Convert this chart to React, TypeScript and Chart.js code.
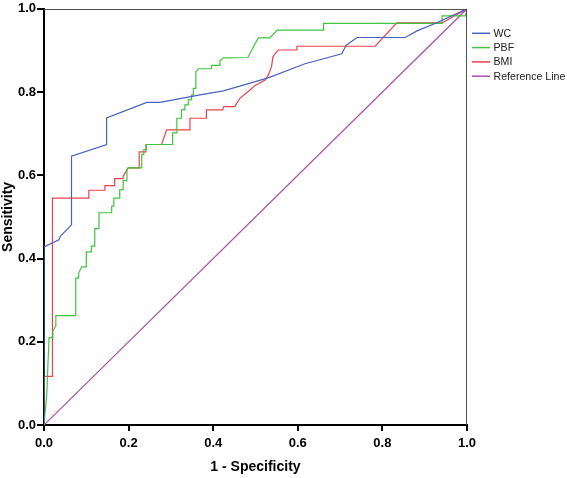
import React, { useEffect, useRef } from 'react';
import { Chart, registerables } from 'chart.js';

Chart.register(...registerables);

const seriesNames = ['WC', 'PBF', 'BMI', 'Reference Line'];
const seriesColors = ['#4763bd', '#3fc43f', '#ea424a', '#a852a8'];

const tickValues = [0, 0.2, 0.4, 0.6, 0.8, 1.0];
const tickLabels = ['0.0', '0.2', '0.4', '0.6', '0.8', '1.0'];

const wcPoints: number[][] = [
  [0, 0], [0, 0.428], [0.035, 0.445], [0.039, 0.454], [0.065, 0.481], [0.065, 0.646],
  [0.148, 0.674], [0.148, 0.738], [0.243, 0.775], [0.274, 0.775], [0.369, 0.793],
  [0.424, 0.803], [0.53, 0.834], [0.617, 0.868], [0.704, 0.892], [0.714, 0.912],
  [0.74, 0.931], [0.854, 0.931], [0.882, 0.947], [0.93, 0.967], [1, 1],
];

const pbfPoints: number[][] = [
  [0, 0], [0, 0.004], [0.004, 0.044], [0.007, 0.083], [0.009, 0.139], [0.012, 0.21],
  [0.021, 0.21], [0.021, 0.226], [0.028, 0.238], [0.028, 0.263], [0.075, 0.263],
  [0.075, 0.353], [0.082, 0.353], [0.082, 0.365], [0.089, 0.38], [0.1, 0.38],
  [0.1, 0.416], [0.112, 0.416], [0.112, 0.43], [0.12, 0.43], [0.12, 0.472],
  [0.13, 0.472], [0.13, 0.51], [0.16, 0.51], [0.16, 0.526], [0.165, 0.526],
  [0.165, 0.545], [0.179, 0.545], [0.179, 0.565], [0.187, 0.565], [0.187, 0.587],
  [0.196, 0.587], [0.196, 0.614], [0.199, 0.618], [0.231, 0.618], [0.231, 0.65],
  [0.236, 0.65], [0.236, 0.662], [0.242, 0.662], [0.242, 0.674], [0.304, 0.674],
  [0.304, 0.702], [0.314, 0.702], [0.314, 0.737], [0.325, 0.737], [0.325, 0.757],
  [0.333, 0.757], [0.333, 0.769], [0.341, 0.769], [0.341, 0.781], [0.349, 0.781],
  [0.349, 0.793], [0.353, 0.793], [0.353, 0.809], [0.359, 0.809], [0.359, 0.849],
  [0.365, 0.856], [0.396, 0.856], [0.396, 0.864], [0.416, 0.864], [0.416, 0.875],
  [0.424, 0.882], [0.482, 0.883], [0.499, 0.916], [0.507, 0.93], [0.534, 0.93],
  [0.551, 0.949], [0.661, 0.949], [0.661, 0.965], [0.941, 0.965], [0.941, 0.983],
  [0.996, 0.983], [1, 1],
];

const bmiPoints: number[][] = [
  [0, 0], [0, 0.117], [0.02, 0.117], [0.02, 0.545], [0.106, 0.545], [0.106, 0.564],
  [0.144, 0.564], [0.144, 0.575], [0.167, 0.575], [0.167, 0.592], [0.187, 0.592],
  [0.187, 0.597], [0.199, 0.618], [0.225, 0.618], [0.225, 0.656], [0.241, 0.656],
  [0.241, 0.674], [0.278, 0.674], [0.29, 0.709], [0.345, 0.709], [0.345, 0.737],
  [0.384, 0.737], [0.384, 0.757], [0.422, 0.757], [0.425, 0.765], [0.451, 0.765],
  [0.463, 0.785], [0.487, 0.805], [0.499, 0.816], [0.522, 0.828], [0.53, 0.84],
  [0.538, 0.861], [0.541, 0.884], [0.546, 0.892], [0.554, 0.901], [0.598, 0.901],
  [0.598, 0.91], [0.783, 0.91], [0.834, 0.966], [0.941, 0.966], [1, 1],
];

const referencePoints: number[][] = [[0, 0], [1, 1]];

const allSeries = [wcPoints, pbfPoints, bmiPoints, referencePoints];

const FONT = '"Liberation Sans", Arial, Helvetica, sans-serif';

export default function App() {
  const ref = useRef<HTMLCanvasElement>(null);

  useEffect(() => {
    if (!ref.current) return;
    const toXY = (pts: number[][]) => pts.map(([x, y]) => ({ x, y }));

    const framePlugin = {
      id: 'frameAndLegend',
      afterDatasetsDraw(chart: any) {
        const { ctx, chartArea: a } = chart;
        ctx.save();
        ctx.strokeStyle = '#505050';
        ctx.lineWidth = 1;
        ctx.beginPath();
        ctx.moveTo(a.left, Math.round(a.top) + 0.5);
        ctx.lineTo(Math.round(a.right) - 0.5, Math.round(a.top) + 0.5);
        ctx.lineTo(Math.round(a.right) - 0.5, a.bottom);
        ctx.stroke();
        ctx.restore();
      },
      afterDraw(chart: any) {
        const { ctx, chartArea: a } = chart;
        ctx.save();
        ctx.font = `10.6px ${FONT}`;
        ctx.textBaseline = 'middle';
        ctx.textAlign = 'left';
        seriesNames.forEach((name, i) => {
          const y = a.top + 24.5 + i * 14.3;
          ctx.strokeStyle = seriesColors[i];
          ctx.lineWidth = 1.5;
          ctx.beginPath();
          ctx.moveTo(a.right + 5, y);
          ctx.lineTo(a.right + 23, y);
          ctx.stroke();
          ctx.fillStyle = '#222';
          ctx.fillText(name, a.right + 26.5, y + 0.5);
        });
        ctx.restore();
      },
    };

    const chart = new Chart(ref.current, {
      type: 'line',
      data: {
        datasets: allSeries.map((pts, i) => ({
          label: seriesNames[i],
          data: toXY(pts),
          borderColor: seriesColors[i],
          backgroundColor: seriesColors[i],
          borderWidth: 1.2,
          pointRadius: 0,
          tension: 0,
          fill: false,
        })),
      },
      options: {
        responsive: false,
        animation: false,
        layout: { padding: { top: 4, right: 100, left: 0, bottom: 0 } },
        plugins: { legend: { display: false }, tooltip: { enabled: false } },
        scales: {
          x: {
            type: 'linear',
            min: 0,
            max: 1,
            afterFit: (s: any) => { s.height = 53; },
            afterBuildTicks: (s: any) => { s.ticks = tickValues.map((v) => ({ value: v })); },
            ticks: {
              callback: (v: any) => tickLabels[tickValues.findIndex((t) => Math.abs(t - v) < 1e-6)] ?? '',
              color: '#000',
              font: { family: FONT, size: 13, weight: 'bold' },
              padding: 5,
              maxRotation: 0,
            },
            grid: { display: true, drawOnChartArea: false, drawTicks: true, tickLength: 6, color: '#000', lineWidth: 2 },
            border: { display: true, color: '#000', width: 2 },
            title: {
              display: true,
              text: '1 - Specificity',
              color: '#000',
              font: { family: FONT, size: 14, weight: 'bold' },
              padding: { top: 0, bottom: 2 },
            },
          },
          y: {
            type: 'linear',
            min: 0,
            max: 1,
            afterFit: (s: any) => { s.width = 44; },
            afterBuildTicks: (s: any) => { s.ticks = tickValues.map((v) => ({ value: v })); },
            ticks: {
              callback: (v: any) => tickLabels[tickValues.findIndex((t) => Math.abs(t - v) < 1e-6)] ?? '',
              color: '#000',
              font: { family: FONT, size: 13, weight: 'bold' },
              padding: 1,
            },
            grid: { display: true, drawOnChartArea: false, drawTicks: true, tickLength: 7, color: '#000', lineWidth: 2 },
            border: { display: true, color: '#000', width: 2 },
            title: {
              display: true,
              text: 'Sensitivity',
              color: '#000',
              font: { family: FONT, size: 14, weight: 'bold' },
              padding: { top: 0, bottom: 0 },
            },
          },
        },
      } as any,
      plugins: [framePlugin],
    });
    return () => chart.destroy();
  }, []);

  return (
    <div style={{ position: 'absolute', left: 0, top: 0, width: 567, height: 478, background: '#fff' }}>
      <canvas ref={ref} width={567} height={478} style={{ display: 'block' }} />
    </div>
  );
}
